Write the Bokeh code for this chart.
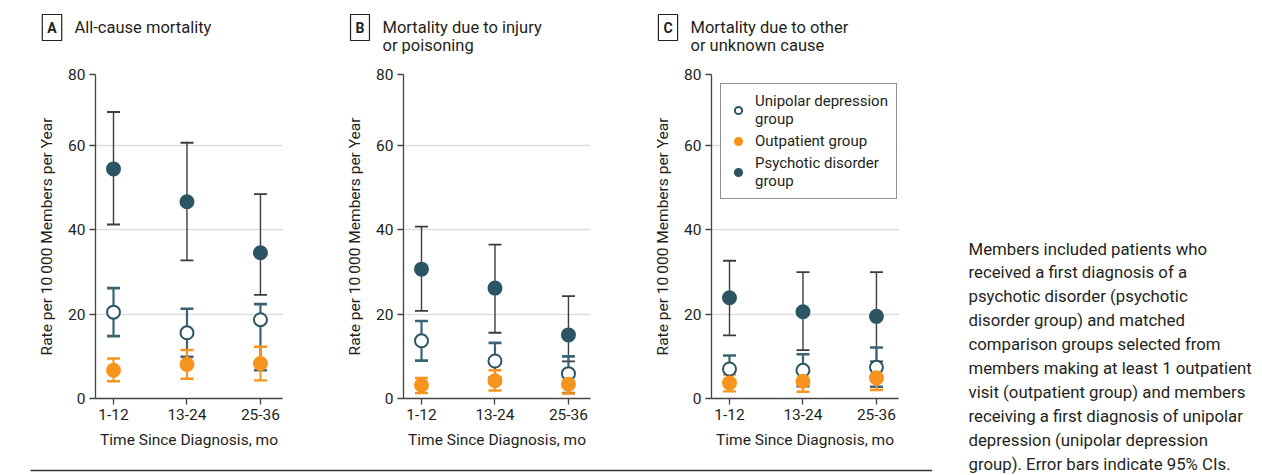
from bokeh.plotting import figure
from bokeh.models import Range1d, FixedTicker, Label, Legend, LegendItem, ColumnDataSource, Spacer
from bokeh.layouts import row, column
from bokeh.embed import file_html
from bokeh.resources import INLINE

periods = ["1-12", "13-24", "25-36"]
x_pos = [1, 2, 3]

panel_letters = ["A", "B", "C"]
panel_titles = [["All-cause mortality"],
                ["Mortality due to injury", "or poisoning"],
                ["Mortality due to other", "or unknown cause"]]

# Panel A: all-cause mortality
a_uni = [20.5, 15.6, 18.7]
a_uni_lo = [14.8, 9.9, 6.7]
a_uni_hi = [26.2, 21.3, 22.4]
a_out = [6.7, 8.1, 8.3]
a_out_lo = [4.1, 4.7, 4.3]
a_out_hi = [9.5, 11.5, 12.3]
a_psy = [54.5, 46.7, 34.6]
a_psy_lo = [41.3, 32.8, 24.6]
a_psy_hi = [68.0, 60.7, 48.5]

# Panel B: injury or poisoning
b_uni = [13.7, 8.9, 5.9]
b_uni_lo = [9.0, 5.0, 1.3]
b_uni_hi = [18.4, 13.2, 10.0]
b_out = [3.2, 4.2, 3.4]
b_out_lo = [1.3, 1.9, 1.2]
b_out_hi = [4.9, 6.7, 5.6]
b_psy = [30.7, 26.2, 15.1]
b_psy_lo = [20.8, 15.6, 8.8]
b_psy_hi = [40.8, 36.5, 24.3]

# Panel C: other or unknown cause
c_uni = [7.0, 6.7, 7.4]
c_uni_lo = [3.8, 2.9, 2.8]
c_uni_hi = [10.2, 10.5, 12.1]
c_out = [3.7, 4.1, 4.9]
c_out_lo = [1.7, 1.6, 2.0]
c_out_hi = [5.7, 6.3, 8.1]
c_psy = [23.9, 20.6, 19.5]
c_psy_lo = [15.0, 11.5, 8.8]
c_psy_hi = [32.7, 30.0, 30.0]

y_ticks = [0, 20, 40, 60, 80]
group_labels = ["Unipolar depression\ngroup", "Outpatient group", "Psychotic disorder\ngroup"]

note_lines = [
    "Members included patients who",
    "received a first diagnosis of a",
    "psychotic disorder (psychotic",
    "disorder group) and matched",
    "comparison groups selected from",
    "members making at least 1 outpatient",
    "visit (outpatient group) and members",
    "receiving a first diagnosis of unipolar",
    "depression (unipolar depression",
    "group). Error bars indicate 95% CIs.",
]

FONT = "Roboto"
TEXT = "#231f20"
TEAL = "#2b5563"
UNI_BAR = "#3a6473"
ORANGE = "#f7941d"
PSY_BAR = "#3c3c3c"

Y_TOP = 76.9  # top of the (compressed) axis, labelled 80 as in the original


def blank(p):
    p.axis.visible = False
    p.grid.visible = False
    p.outline_line_color = None
    return p


def make_panel(series, legend=False):
    p = figure(width=308, height=394, x_range=Range1d(0.755, 3.30), y_range=Range1d(0, Y_TOP),
               output_backend="svg", toolbar_location=None,
               min_border_left=87, min_border_right=34, min_border_top=8, min_border_bottom=62)
    p.outline_line_color = None
    p.xgrid.visible = False
    p.ygrid.grid_line_color = "#dddddd"
    p.ygrid.grid_line_width = 1.5

    tick_vals = [t if t < 80 else Y_TOP for t in y_ticks]
    p.yaxis.ticker = FixedTicker(ticks=tick_vals)
    p.yaxis.major_label_overrides = {tv: str(t) for tv, t in zip(tick_vals, y_ticks)}
    p.xaxis.ticker = FixedTicker(ticks=x_pos)
    p.xaxis.major_label_overrides = {x: s for x, s in zip(x_pos, periods)}
    for ax in (p.xaxis[0], p.yaxis[0]):
        ax.axis_line_color = "#444444"
        ax.axis_line_width = 1.3
        ax.major_tick_line_color = "#444444"
        ax.major_tick_line_width = 1.3
        ax.major_tick_in = 0
        ax.major_tick_out = 6
        ax.minor_tick_line_color = None
        ax.major_label_text_font = FONT
        ax.major_label_text_font_size = "15.5px"
        ax.major_label_text_color = TEXT
        ax.axis_label_text_font = FONT
        ax.axis_label_text_font_style = "normal"
        ax.axis_label_text_color = TEXT
        ax.axis_label_text_font_size = "15.5px"
    p.yaxis.axis_label = "Rate per 10\u2009000 Members per Year"
    p.yaxis.major_label_standoff = 4
    p.yaxis.axis_label_standoff = 9
    p.xaxis.axis_label = "Time Since Diagnosis, mo"
    p.xaxis.major_label_standoff = 4
    p.xaxis.axis_label_standoff = 8

    renderers = []
    styles = [
        (series[0], series[1], series[2], "#ffffff", TEAL, UNI_BAR, 2.2),
        (series[3], series[4], series[5], ORANGE, ORANGE, ORANGE, 2.0),
        (series[6], series[7], series[8], TEAL, TEAL, PSY_BAR, 1.4),
    ]
    for idx in (2, 0, 1):
        vals, lo, hi, fill, line, bar, bw = styles[idx]
        src = ColumnDataSource(dict(x=x_pos, y=vals, lo=lo, hi=hi))
        p.segment(x0="x", y0="lo", x1="x", y1="hi", source=src, line_color=bar, line_width=bw)
        p.scatter(x="x", y="lo", source=src, marker="dash", size=13, line_color=bar, line_width=bw + 0.4)
        p.scatter(x="x", y="hi", source=src, marker="dash", size=13, line_color=bar, line_width=bw + 0.4)
    for idx in (2, 0, 1):
        vals, lo, hi, fill, line, bar, bw = styles[idx]
        src = ColumnDataSource(dict(x=x_pos, y=vals))
        r = p.scatter(x="x", y="y", source=src, size=13, fill_color=fill, line_color=line, line_width=2)
        renderers.append((idx, r))

    if legend:
        rmap = dict(renderers)
        items = [LegendItem(label=group_labels[i], renderers=[rmap[i]]) for i in (0, 1, 2)]
        leg = Legend(items=items, location="top_left", margin=9, padding=8, spacing=4,
                     border_line_color="#231f20", border_line_width=1.2,
                     label_text_font=FONT, label_text_font_size="15px", label_text_color=TEXT,
                     label_standoff=8, glyph_width=18, glyph_height=18)
        p.add_layout(leg)
    return p


pa = make_panel([a_uni, a_uni_lo, a_uni_hi, a_out, a_out_lo, a_out_hi, a_psy, a_psy_lo, a_psy_hi])
pb = make_panel([b_uni, b_uni_lo, b_uni_hi, b_out, b_out_lo, b_out_hi, b_psy, b_psy_lo, b_psy_hi])
pc = make_panel([c_uni, c_uni_lo, c_uni_hi, c_out, c_out_lo, c_out_hi, c_psy, c_psy_lo, c_psy_hi], legend=True)

# header strip with the panel letters and titles
head = blank(figure(width=924, height=58, x_range=Range1d(0, 924), y_range=Range1d(58, 0),
                    output_backend="svg", toolbar_location=None, min_border=0))
for k in range(3):
    x0 = 308 * k
    head.add_layout(Label(x=x0 + 43.5, y=19, text=panel_letters[k], text_align="center",
                          text_baseline="middle", text_font=FONT, text_font_size="14px",
                          text_font_style="bold", text_color=TEXT, border_line_color="#231f20",
                          border_line_width=1.2, padding=5, background_fill_color="white"))
    for i, line in enumerate(panel_titles[k]):
        head.add_layout(Label(x=x0 + 66, y=19 + 18 * i, text=line, text_align="left",
                              text_baseline="middle", text_font=FONT, text_font_size="16.5px",
                              text_color=TEXT))

# bottom rule under the three panels
foot = blank(figure(width=924, height=15, x_range=Range1d(0, 924), y_range=Range1d(15, 0),
                    output_backend="svg", toolbar_location=None, min_border=0))
foot.segment(x0=[22], y0=[10], x1=[924], y1=[10], line_color="#333333", line_width=1.5)

note = blank(figure(width=322, height=467, x_range=Range1d(0, 322), y_range=Range1d(467, 0),
                    output_backend="svg", toolbar_location=None, min_border=0))
for i, line in enumerate(note_lines):
    note.add_layout(Label(x=36, y=240 + 23.9 * i, text=line, text_align="left", text_baseline="middle",
                          text_font=FONT, text_font_size="16.8px", text_color=TEXT))

content = row(column(head, row(pa, pb, pc), foot), note)
layout = column(Spacer(height=8, width=10), row(Spacer(width=8, height=10), content))

open("out.html", "w").write(file_html(layout, INLINE))
